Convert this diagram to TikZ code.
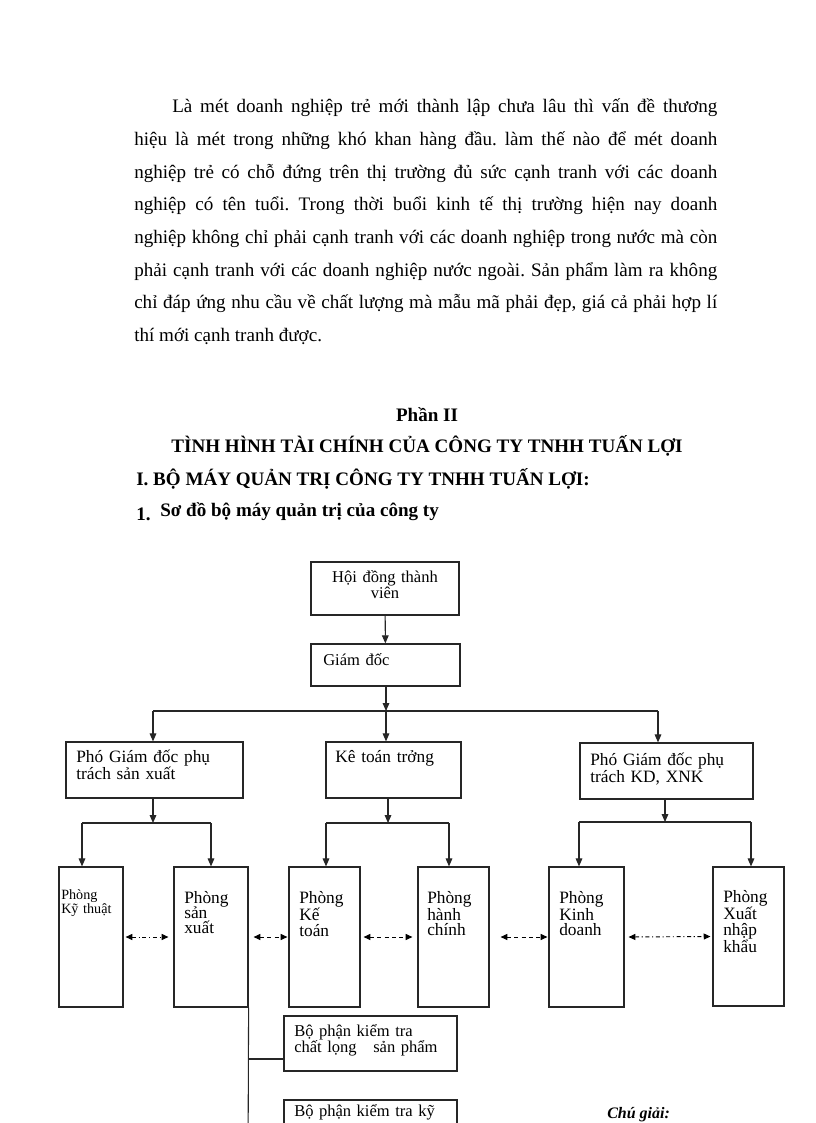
\documentclass[tikz,border=0pt]{standalone}
\usepackage{fontspec}
\setmainfont{Liberation Serif}
\usetikzlibrary{arrows.meta,fit}
\begin{document}
\frenchspacing
\begin{tikzpicture}[x=0.75pt,y=-0.75pt,
  box/.style={draw=black!85, line width=0.9pt, inner sep=0pt},
  lbl/.style={inner sep=0pt, anchor=base west, align=left, text width=6cm,
    font=\fontsize{12.4}{11.3}\selectfont},
  lblsm/.style={lbl, font=\fontsize{10.6}{9.2}\selectfont},
  lblbig/.style={lbl, font=\fontsize{13}{11.6}\selectfont},
  ln/.style={line width=0.8pt, draw=black!85},
  arr/.style={ln, -{Triangle[length=6pt,width=5pt]}},
  darr/.style={line width=0.7pt, {Triangle[length=5pt,width=4.5pt]}-{Triangle[length=5pt,width=4.5pt]}, dash pattern=on 3pt off 2.5pt},
  ddarr/.style={darr, dash pattern=on 3pt off 2pt on 0.8pt off 2pt},
  head/.style={inner sep=0pt, font=\bfseries\fontsize{14.3}{14.3}\selectfont}
]
\useasboundingbox (0,0) rectangle (816,1123);

% paragraph
\node[inner sep=0pt, anchor=base west, text width=437.25pt, align=justify,
  font=\fontsize{14.3}{24.5}\selectfont] (para) at (134,113)
{\hspace*{28.5pt}Là mét doanh nghiệp trẻ mới thành lập chưa lâu thì vấn đề thương\linebreak
hiệu là mét trong những khó khan hàng đầu. làm thế nào để mét doanh\linebreak
nghiệp trẻ có chỗ đứng trên thị trường đủ sức cạnh tranh với các doanh\linebreak
nghiệp có tên tuổi. Trong thời buổi kinh tế thị trường hiện nay doanh\linebreak
nghiệp không chỉ phải cạnh tranh với các doanh nghiệp trong nước mà còn\linebreak
phải cạnh tranh với các doanh nghiệp nước ngoài. Sản phẩm làm ra không\linebreak
chỉ đáp ứng nhu cầu về chất lượng mà mẫu mã phải đẹp, giá cả phải hợp lí\linebreak
thí mới cạnh tranh được.};

% headings
\node[head, anchor=base] (phan) at (427,421) {Phần II};
\node[head, anchor=base] (tinh) at (427,452) {TÌNH HÌNH TÀI CHÍNH CỦA CÔNG TY TNHH TUẤN LỢI};
\node[head, anchor=base west] (bomay) at (136,485) {I. BỘ MÁY QUẢN TRỊ CÔNG TY TNHH TUẤN LỢI:};
\node[head, anchor=base west] (one) at (136,520) {1.};
\node[head, anchor=base west] (sodo) at (160,516) {Sơ đồ bộ máy quản trị của công ty};

% boxes
\node[box, fit={(311,562) (459,615)}] (hdtv) {};
\node[box, fit={(311,644) (460,686)}] (gd) {};
\node[box, fit={(66,742) (243,798)}] (pgsx) {};
\node[box, fit={(326,742) (461,798)}] (ktt) {};
\node[box, fit={(580,743) (753,799)}] (pgkd) {};
\node[box, fit={(59,867) (123,1007)}] (kt) {};
\node[box, fit={(174,867) (248,1007)}] (sx) {};
\node[box, fit={(289,867) (360,1007)}] (kto) {};
\node[box, fit={(418,867) (489,1007)}] (hc) {};
\node[box, fit={(549,867) (624,1007)}] (kd) {};
\node[box, fit={(713,867) (784,1006)}] (xnk) {};
\node[box, fit={(284,1016) (457,1071)}] (bp1) {};
\node[box, fit={(284,1100) (457,1170)}] (bp2) {};

% box texts
\node[lbl, anchor=base, align=center, text width=140pt] (thdtv) at (385,582) {Hội đồng thành\\viên};
\node[lbl] (tgd) at (323,665) {Giám đốc};
\node[lblbig] (tpgsx) at (76,762) {Phó Giám đốc phụ\\trách sản xuất};
\node[lblbig] (tktt) at (335,762) {Kê toán trởng};
\node[lblbig] (tpgkd) at (590,765) {Phó Giám đốc phụ\\trách KD, XNK};
\node[lblsm] (tkt) at (61,899) {Phòng\\Kỹ thuật};
\node[lblbig] (tsx) at (184,903) {Phòng\\sản\\xuất};
\node[lblbig] (tkto) at (299,903) {Phòng\\Kế\\toán};
\node[lblbig] (thc) at (427,903) {Phòng\\hành\\chính};
\node[lblbig] (tkd) at (559,903) {Phòng\\Kinh\\doanh};
\node[lblbig] (txnk) at (723,902) {Phòng\\Xuất\\nhập\\khẩu};
\node[lbl] (tbp1) at (294,1036) {Bộ phận kiểm tra\\chất lọng\quad sản phẩm};
\node[lbl] (tbp2) at (294,1116) {Bộ phận kiểm tra kỹ};

\node[inner sep=0pt, anchor=base west, font=\bfseries\itshape\fontsize{12}{12}\selectfont] (cg) at (607,1118) {\underline{Chú giải:}};

% connectors
\coordinate (b1L) at (153,711);
\coordinate (b1M) at (386,711);
\coordinate (b1R) at (658,711);
\draw[arr] (hdtv) -- (gd);
\draw[arr] (gd.south -| b1M) -- (b1M);
\draw[ln] (b1L) -- (b1R);
\draw[arr] (b1L) -- (b1L |- pgsx.north);
\draw[arr] (b1M) -- (b1M |- ktt.north);
\draw[arr] (b1R) -- (b1R |- pgkd.north);

\coordinate (b2aL) at (82,823);
\coordinate (b2aM) at (153,823);
\coordinate (b2aR) at (211,823);
\draw[arr] (pgsx.south -| b2aM) -- (b2aM);
\draw[ln] (b2aL) -- (b2aR);
\draw[arr] (b2aL) -- (b2aL |- kt.north);
\draw[arr] (b2aR) -- (b2aR |- sx.north);

\coordinate (b2bL) at (326,823);
\coordinate (b2bM) at (388,823);
\coordinate (b2bR) at (449,823);
\draw[arr] (ktt.south -| b2bM) -- (b2bM);
\draw[ln] (b2bL) -- (b2bR);
\draw[arr] (b2bL) -- (b2bL |- kto.north);
\draw[arr] (b2bR) -- (b2bR |- hc.north);

\coordinate (b2cL) at (579,822);
\coordinate (b2cM) at (665,822);
\coordinate (b2cR) at (751,822);
\draw[arr] (pgkd.south -| b2cM) -- (b2cM);
\draw[ln] (b2cL) -- (b2cR);
\draw[arr] (b2cL) -- (b2cL |- kd.north);
\draw[arr] (b2cR) -- (b2cR |- xnk.north);

\draw[ddarr] ([xshift=1.5pt]kt.east) -- ([xshift=-3.75pt]sx.west);
\draw[darr] ([xshift=3.75pt]sx.east) -- ([xshift=-0.75pt]kto.west);
\draw[darr] ([xshift=2.25pt]kto.east) -- ([xshift=-3.75pt]hc.west);
\draw[darr] ([xshift=8.25pt]hc.east) -- ([xshift=-0.75pt]kd.west);
\draw[ddarr] ([xshift=3pt]kd.east) -- ([xshift=-1.5pt]xnk.west);

\coordinate (vend) at (248,1170);
\coordinate (j1) at (248,1059);
\draw[ln] (sx.south east) -- (vend);
\draw[ln] (j1) -- (j1 -| bp1.west);
\end{tikzpicture}
\end{document}
